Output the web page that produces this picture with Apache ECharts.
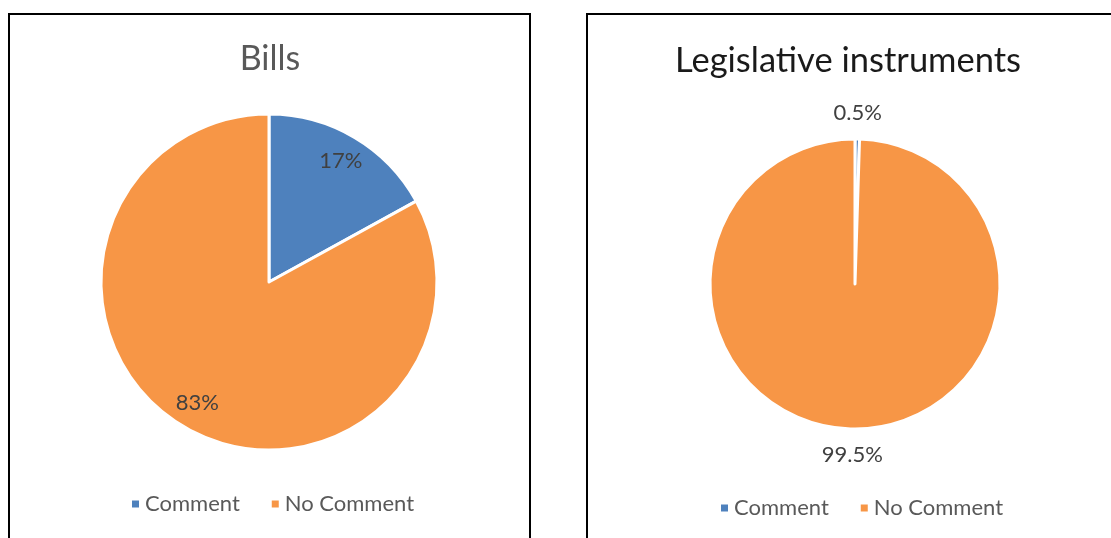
<!DOCTYPE html>
<html>
<head>
<meta charset="utf-8">
<script src="https://cdn.jsdelivr.net/npm/echarts@6/dist/echarts.min.js"></script>
<style>
  html, body { margin: 0; padding: 0; background: #fff; }
  #main { width: 1111px; height: 538px; }
</style>
</head>
<body>
<div id="main"></div>
<script>
// data
const categories = ['Comment', 'No Comment'];
const billsValues = [17, 83];
const billsLabels = ['17%', '83%'];
const instrumentValues = [0.5, 99.5];
const instrumentLabels = ['0.5%', '99.5%'];
const colors = ['#4e81bd', '#f79646'];

const FONT = 'Lato';

function pieData(values) {
  return values.map((v, i) => ({ name: categories[i], value: v, itemStyle: { color: colors[i] } }));
}
// transparent ring that only carries the labels
function labelRing(values, labels, center, radius) {
  return {
    type: 'pie', center: center, radius: radius, startAngle: 90,
    silent: true, legendHoverLink: false,
    data: values.map((v, i) => ({ name: categories[i], value: v })),
    itemStyle: { color: 'rgba(0,0,0,0)' },
    label: {
      show: true, position: 'inside',
      formatter: p => labels[p.dataIndex],
      color: '#404040', fontSize: 22, fontFamily: FONT
    },
    labelLine: { show: false },
    emphasis: { disabled: true }
  };
}

let myChart = echarts.init(document.getElementById('main'));
myChart.setOption({
  animation: false,
  graphic: [
    { type: 'rect', shape: { x: 9, y: 14, width: 521, height: 540 }, style: { fill: 'none', stroke: '#000', lineWidth: 2 } },
    { type: 'rect', shape: { x: 587, y: 14, width: 540, height: 540 }, style: { fill: 'none', stroke: '#000', lineWidth: 2 } }
  ],
  title: [
    { text: 'Bills', left: 265, top: 37, textAlign: 'center',
      textStyle: { fontFamily: FONT, fontSize: 34, fontWeight: 'normal', color: '#595959' } },
    { text: 'Legislative instruments', left: 843, top: 38, textAlign: 'center',
      textStyle: { fontFamily: FONT, fontSize: 34.5, fontWeight: 'normal', color: '#1a1a1a' } }
  ],
  legend: [
    { data: categories, left: 125, top: 488, icon: 'rect', itemWidth: 9, itemHeight: 9, itemGap: 30,
      textStyle: { fontFamily: FONT, fontSize: 22, color: '#595959' } },
    { data: categories, left: 714, top: 492, icon: 'rect', itemWidth: 9, itemHeight: 9, itemGap: 30,
      textStyle: { fontFamily: FONT, fontSize: 22, color: '#595959' } }
  ],
  series: [
    {
      type: 'pie', center: [269, 282], radius: [0, 168], startAngle: 90,
      data: pieData(billsValues),
      itemStyle: { borderColor: '#fff', borderWidth: 3 },
      label: { show: false }, labelLine: { show: false }
    },
    {
      type: 'pie', center: [855, 284], radius: [0, 145], startAngle: 90,
      data: pieData(instrumentValues),
      itemStyle: { borderColor: '#fff', borderWidth: 3 },
      label: { show: false }, labelLine: { show: false }
    },
    labelRing(billsValues, billsLabels, [269, 282], [108, 168]),
    labelRing(instrumentValues, instrumentLabels, [855, 284], [159, 177])
  ]
});
</script>
</body>
</html>
